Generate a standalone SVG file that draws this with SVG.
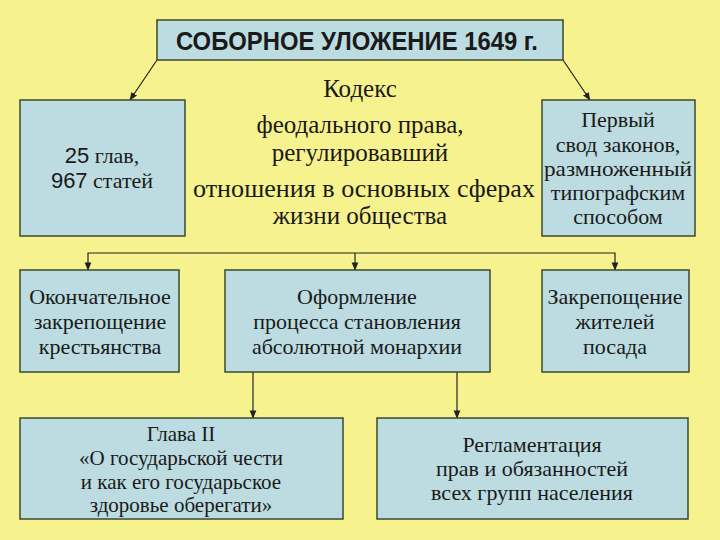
<svg xmlns="http://www.w3.org/2000/svg" width="720" height="540" viewBox="0 0 720 540">
<defs>
<marker id="ah" viewBox="0 0 10 10" refX="9" refY="5" markerWidth="7" markerHeight="7" orient="auto-start-reverse">
<path d="M0,1 L10,5 L0,9 z" fill="#222"/>
</marker>
<style>
.box{fill:#BCDCE1;stroke:#3B4A30;stroke-width:1.5}
.t{fill:#1a1a1a;text-anchor:middle}
.c{stroke:#222;stroke-width:1.2;fill:none}
</style>
</defs>
<rect width="720" height="540" fill="#F6F28D"/>
<g id="connectors">
<line class="c" x1="157" y1="60" x2="130" y2="100" marker-end="url(#ah)"/>
<line class="c" x1="563" y1="60" x2="590" y2="100" marker-end="url(#ah)"/>
<polyline class="c" points="88,270 88,253 615,253 615,270" marker-start="url(#ah)" marker-end="url(#ah)"/>
<line class="c" x1="355" y1="253" x2="355" y2="270" marker-end="url(#ah)"/>
<line class="c" x1="253" y1="372" x2="253" y2="418" marker-end="url(#ah)"/>
<line class="c" x1="457" y1="372" x2="457" y2="418" marker-end="url(#ah)"/>
</g>
<g id="title">
<rect class="box" x="157" y="20" width="406" height="40"/>
<text class="t" font-family="Liberation Sans, Arial, sans-serif" x="357" y="50" font-size="26" font-weight="bold" textLength="362" lengthAdjust="spacingAndGlyphs">СОБОРНОЕ УЛОЖЕНИЕ 1649 г.</text>
</g>
<g font-family="Liberation Serif, DejaVu Serif, serif">
<g id="chapters">
<rect class="box" x="20" y="100" width="165" height="136"/>
<text class="t" x="102" y="163" font-size="22"><tspan font-family="Liberation Sans, Arial, sans-serif">25</tspan> глав,</text>
<text class="t" x="102" y="188" font-size="22"><tspan font-family="Liberation Sans, Arial, sans-serif">967</tspan> статей</text>
</g>
<g id="codex">
<text class="t" x="360" y="97" font-size="25">Кодекс</text>
<text class="t" x="360" y="133" font-size="25">феодального права,</text>
<text class="t" x="360" y="161" font-size="25">регулировавший</text>
<text class="t" x="364" y="197" font-size="25" textLength="342" lengthAdjust="spacingAndGlyphs">отношения в основных сферах</text>
<text class="t" x="360" y="224" font-size="25">жизни общества</text>
</g>
<g id="first">
<rect class="box" x="542" y="100" width="153" height="136"/>
<text class="t" x="618" y="127" font-size="22">Первый</text>
<text class="t" x="618" y="152" font-size="22">свод законов,</text>
<text class="t" x="618" y="176" font-size="22" textLength="148" lengthAdjust="spacingAndGlyphs">размноженный</text>
<text class="t" x="618" y="200" font-size="22">типографским</text>
<text class="t" x="618" y="224" font-size="22">способом</text>
</g>
<g id="peasants">
<rect class="box" x="20" y="270" width="159" height="102"/>
<text class="t" x="100" y="304" font-size="22">Окончательное</text>
<text class="t" x="100" y="329" font-size="22">закрепощение</text>
<text class="t" x="100" y="354" font-size="22">крестьянства</text>
</g>
<g id="absolutism">
<rect class="box" x="225" y="270" width="265" height="102"/>
<text class="t" x="357" y="304" font-size="22">Оформление</text>
<text class="t" x="357" y="329" font-size="22">процесса становления</text>
<text class="t" x="357" y="354" font-size="22">абсолютной монархии</text>
</g>
<g id="posad">
<rect class="box" x="542" y="270" width="147" height="102"/>
<text class="t" x="615" y="304" font-size="22">Закрепощение</text>
<text class="t" x="615" y="329" font-size="22">жителей</text>
<text class="t" x="615" y="354" font-size="22">посада</text>
</g>
<g id="chapter2">
<rect class="box" x="20" y="418" width="323" height="101"/>
<text class="t" x="181" y="441" font-size="21">Глава II</text>
<text class="t" x="181" y="465" font-size="21">«О государьской чести</text>
<text class="t" x="181" y="489" font-size="21">и как его государьское</text>
<text class="t" x="181" y="512" font-size="21">здоровье оберегати»</text>
</g>
<g id="regulation">
<rect class="box" x="377" y="418" width="311" height="101"/>
<text class="t" x="532" y="452" font-size="22">Регламентация</text>
<text class="t" x="532" y="476" font-size="22">прав и обязанностей</text>
<text class="t" x="532" y="500" font-size="22">всех групп населения</text>
</g>
</g>
</svg>
